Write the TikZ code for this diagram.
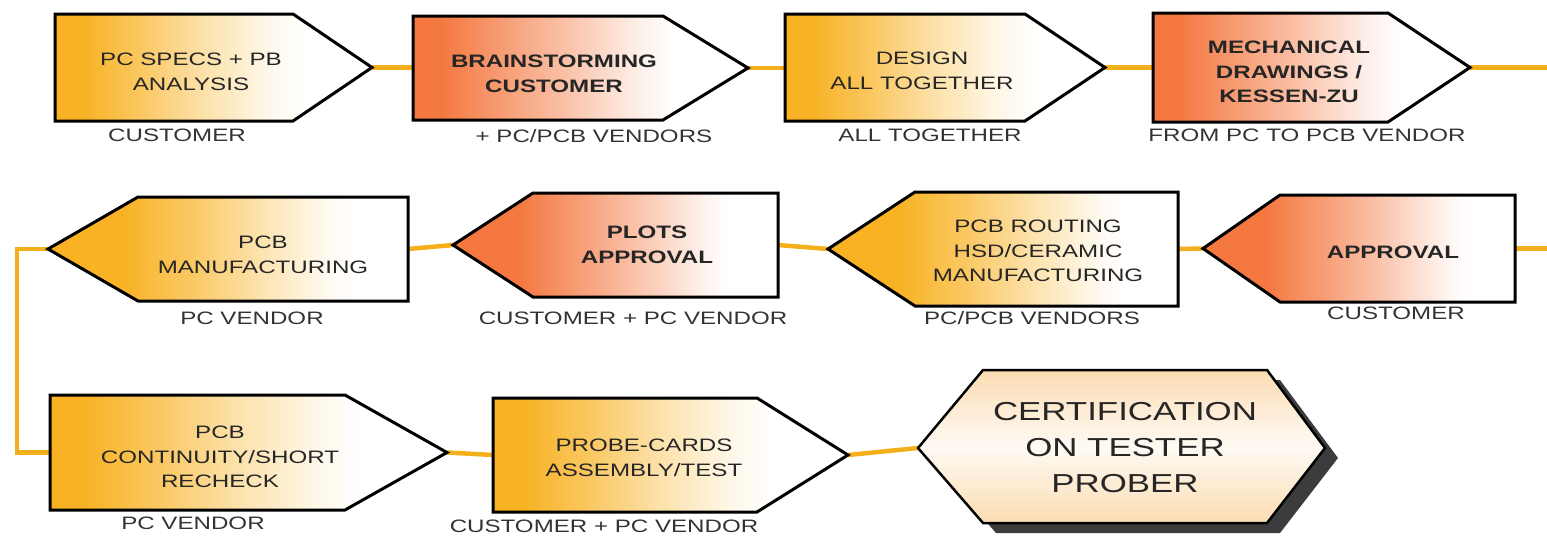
\documentclass[tikz,border=0pt]{standalone}
\usepackage{fontspec}
\setmainfont{Liberation Sans}[FakeStretch=1.34]
\usetikzlibrary{calc}

\definecolor{boxY}{HTML}{F8B223}
\definecolor{boxR}{HTML}{F47840}
\definecolor{wire}{HTML}{F4B01C}
\definecolor{ink}{HTML}{262626}
\definecolor{roleink}{HTML}{333333}
\definecolor{peach}{HTML}{FBDCB2}
\definecolor{shadowgray}{HTML}{3C3C3C}

% colour fades: the central 25bp..75bp span the step's width
\pgfdeclarehorizontalshading{yellowR}{100bp}{color(0bp)=(boxY); color(29bp)=(boxY); color(37.5bp)=(boxY!75!white); color(48bp)=(boxY!40!white); color(58.5bp)=(boxY!10!white); color(64bp)=(white); color(100bp)=(white)}
\pgfdeclarehorizontalshading{yellowL}{100bp}{color(0bp)=(boxY); color(35bp)=(boxY); color(45bp)=(boxY!70!white); color(55bp)=(boxY!35!white); color(64bp)=(boxY!6!white); color(67.5bp)=(white); color(100bp)=(white)}
\pgfdeclarehorizontalshading{redR}{100bp}{color(0bp)=(boxR); color(29bp)=(boxR); color(37.5bp)=(boxR!75!white); color(48bp)=(boxR!45!white); color(58.5bp)=(boxR!12!white); color(64bp)=(white); color(100bp)=(white)}
\pgfdeclarehorizontalshading{redL}{100bp}{color(0bp)=(boxR); color(35bp)=(boxR); color(45bp)=(boxR!70!white); color(55bp)=(boxR!38!white); color(64bp)=(boxR!8!white); color(67.5bp)=(white); color(100bp)=(white)}

\pgfdeclarelayer{background}
\pgfsetlayers{background,main}

\tikzset{
  stepline/.style={draw=black, line width=3pt, line join=miter},
  steptext/.style={align=center, text=ink, inner sep=0pt, font=\fontsize{18}{24.5}\selectfont},
  stepbold/.style={steptext, font=\fontsize{18}{24.5}\selectfont\bfseries},
  roletext/.style={text=roleink, inner sep=0pt, font=\fontsize{18}{22}\selectfont},
  certtext/.style={align=center, text=ink, inner sep=0pt, font=\fontsize{26}{36}\selectfont},
  wireline/.style={draw=wire, line width=4.5pt}
}

% step pointing right: name, shading, left x, top y, bottom y, corner x, tip x
\newcommand\rstep[7]{%
  \path[stepline, shading=#2] (#3,#4) -- (#6,#4) -- (#7,{(#4+#5)/2}) -- (#6,#5) -- (#3,#5) -- cycle;
  \coordinate (#1-in) at (#3,{(#4+#5)/2});
  \coordinate (#1-out) at (#7,{(#4+#5)/2});}
% step pointing left: name, shading, tip x, top y, bottom y, corner x, right x
\newcommand\lstep[7]{%
  \path[stepline, shading=#2] (#3,{(#4+#5)/2}) -- (#6,#4) -- (#7,#4) -- (#7,#5) -- (#6,#5) -- cycle;
  \coordinate (#1-in) at (#7,{(#4+#5)/2});
  \coordinate (#1-out) at (#3,{(#4+#5)/2});}

\begin{document}
\begin{tikzpicture}[x=1pt, y=-1pt]
\useasboundingbox (0,0) rectangle (1547,538);

% first row, left to right
\rstep{s1}{yellowR}{55}{14}{121}{293}{372}
\rstep{s2}{redR}{413}{16}{120}{663}{748}
\rstep{s3}{yellowR}{785}{14}{121}{1025}{1105}
\rstep{s4}{redR}{1153}{13}{122}{1388}{1470}

% second row, right to left
\lstep{s5}{redL}{1203}{195}{302}{1280}{1515}
\lstep{s6}{yellowL}{828}{192}{306}{915}{1178}
\lstep{s7}{redL}{453}{193}{297}{533}{778}
\lstep{s8}{yellowL}{48}{197}{301}{138}{408}

% third row
\rstep{s9}{yellowR}{50}{395}{510}{345}{447}
\rstep{s10}{yellowR}{493}{398}{512}{757}{848}

% final hexagon with its drop shadow
\fill[shadowgray] (931,458) -- (996,380) -- (1280,380) -- (1338,458) -- (1280,533) -- (996,533) -- cycle;
\path[draw=black, line width=2.5pt, line join=miter, top color=peach, bottom color=peach, middle color=peach!15!white]
  (918,448) -- (983,370) -- (1267,370) -- (1325,448) -- (1267,523) -- (983,523) -- cycle;
\coordinate (cert-in) at (918,448);

% step texts
\node[steptext] (t1) at (191,72) {PC SPECS + PB\\ANALYSIS};
\node[stepbold] (t2) at (554,74) {BRAINSTORMING\\CUSTOMER};
\node[steptext] (t3) at (922,71) {DESIGN\\ALL TOGETHER};
\node[stepbold] (t4) at (1289,72) {MECHANICAL\\DRAWINGS /\\KESSEN-ZU};
\node[stepbold] (t5) at (1393,252) {APPROVAL};
\node[steptext] (t6) at (1038,251) {PCB ROUTING\\HSD/CERAMIC\\MANUFACTURING};
\node[stepbold] (t7) at (647,245) {PLOTS\\APPROVAL};
\node[steptext] (t8) at (263,255) {PCB\\MANUFACTURING};
\node[steptext] (t9) at (220,457) {PCB\\CONTINUITY/SHORT\\RECHECK};
\node[steptext] (t10) at (644,458) {PROBE-CARDS\\ASSEMBLY/TEST};
\node[certtext] (t11) at (1125,448) {CERTIFICATION\\ON TESTER\\PROBER};

% who is in charge of each step
\node[roletext] (r1) at (177,135) {CUSTOMER};
\node[roletext] (r2) at (594,136) {+ PC/PCB VENDORS};
\node[roletext] (r3) at (930,135) {ALL TOGETHER};
\node[roletext] (r4) at (1307,135) {FROM PC TO PCB VENDOR};
\node[roletext] (r5) at (1396,313) {CUSTOMER};
\node[roletext] (r6) at (1032,318) {PC/PCB VENDORS};
\node[roletext] (r7) at (633,318) {CUSTOMER + PC VENDOR};
\node[roletext] (r8) at (252,318) {PC VENDOR};
\node[roletext] (r9) at (193,523) {PC VENDOR};
\node[roletext] (r10) at (604,526) {CUSTOMER + PC VENDOR};

% connecting flow line, kept behind the steps
\coordinate (exitR) at (1547,67.5);
\coordinate (entryR) at (1547,248.5);
\coordinate (bendL) at (17,249);
\begin{pgfonlayer}{background}
  \draw[wireline] (s1-out) -- (s1-out -| s2-in);
  \draw[wireline] (s2-out) -- (s2-out -| s3-in);
  \draw[wireline] (s3-out) -- (s3-out -| s4-in);
  \draw[wireline] (s4-out) -- (exitR);
  \draw[wireline] (entryR) -- (s5-in);
  \draw[wireline] (s5-out) -- (s6-in);
  \draw[wireline] (s6-out) -- (s7-in);
  \draw[wireline] (s7-out) -- (s8-in);
  \draw[wireline] (s8-out) -- (bendL) |- (s9-in);
  \draw[wireline] (s9-out) -- (s10-in);
  \draw[wireline] (s10-out) -- (cert-in);
\end{pgfonlayer}
\end{tikzpicture}
\end{document}
